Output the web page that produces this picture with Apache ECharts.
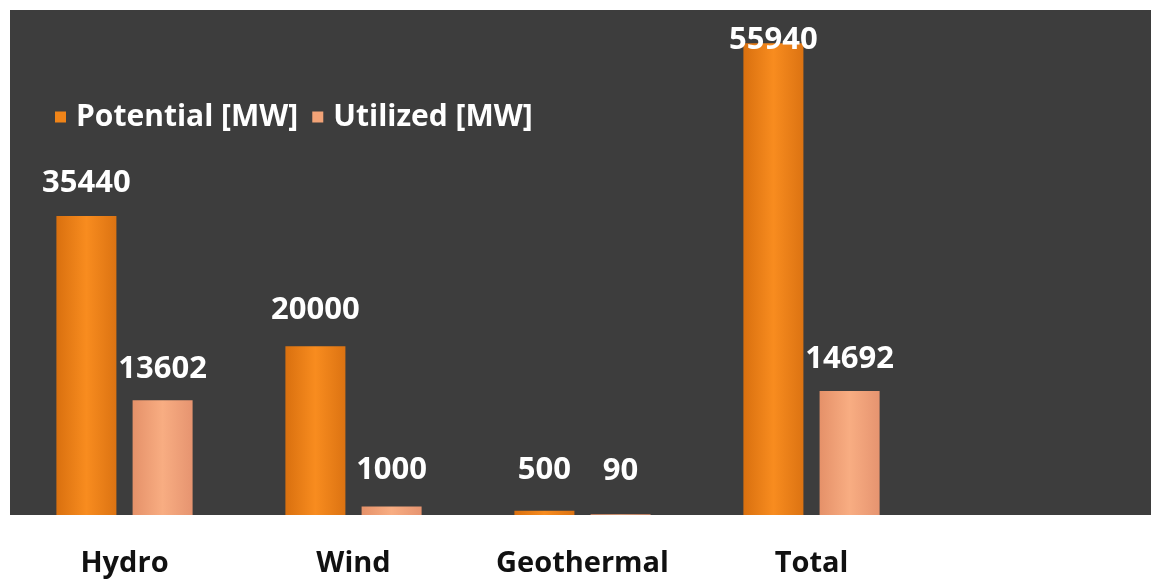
<!DOCTYPE html>
<html><head><meta charset="utf-8">
<script src="https://cdn.jsdelivr.net/npm/echarts@6/dist/echarts.min.js"></script>
<style>html,body{margin:0;padding:0;background:#fff}#c{width:1151px;height:581px}</style>
</head><body><div id="c"></div>
<script>
const categories = ['Hydro', 'Wind', 'Geothermal', 'Total'];
const potential = [35440, 20000, 500, 55940];
const utilized = [13602, 1000, 90, 14692];
const seriesNames = ['Potential [MW]', 'Utilized [MW]'];

const chart = echarts.init(document.getElementById('c'));
const font = '"Open Sans", "DejaVu Sans", sans-serif';
const orangeGrad = new echarts.graphic.LinearGradient(0, 0, 1, 0, [
  {offset: 0, color: '#d9700f'}, {offset: 0.5, color: '#f88c1f'}, {offset: 1, color: '#dc7312'}]);
const peachGrad = new echarts.graphic.LinearGradient(0, 0, 1, 0, [
  {offset: 0, color: '#e59169'}, {offset: 0.5, color: '#f8ad82'}, {offset: 1, color: '#e69470'}]);
const labelStyle = {show: true, position: 'top', distance: 17, color: '#ffffff',
  fontFamily: font, fontWeight: 'bold', fontSize: 31};
// label offsets per bar (visual placement only)
const potDist = [17, 21, 25, -12];
const utiDist = [16, 21, 28, 16];

chart.setOption({
  backgroundColor: '#ffffff',
  animation: false,
  graphic: [{type: 'rect', left: 10, top: 10, shape: {width: 1141, height: 505},
    style: {fill: '#3d3d3d'}, z: -10}],
  legend: {left: 50, top: 97, itemWidth: 11, itemHeight: 11, itemGap: 14,
    icon: 'rect',
    textStyle: {color: '#ffffff', fontFamily: font, fontWeight: 'bold', fontSize: 30, padding: [0, 0, 0, 5]},
    data: [{name: seriesNames[0], itemStyle: {color: '#f08418'}},
           {name: seriesNames[1], itemStyle: {color: '#f2a377'}}]},
  grid: {left: 10, top: 9, width: 916, bottom: 66, containLabel: false},
  xAxis: {type: 'category', data: categories,
    axisLine: {show: false}, axisTick: {show: false},
    axisLabel: {color: '#111111', fontFamily: font, fontWeight: 'bold', fontSize: 29, margin: 34}},
  yAxis: {type: 'value', min: 0, max: 60000, show: false, splitLine: {show: false}},
  series: [
    {name: seriesNames[0], type: 'bar', barWidth: 60, barGap: '27%',
     data: potential.map((v, i) => ({value: v, label: {distance: potDist[i]}})),
     itemStyle: {color: orangeGrad}, label: labelStyle},
    {name: seriesNames[1], type: 'bar', barWidth: 60,
     data: utilized.map((v, i) => ({value: v, label: {distance: utiDist[i]}})),
     itemStyle: {color: peachGrad}, label: labelStyle}
  ]
});
</script></body></html>
